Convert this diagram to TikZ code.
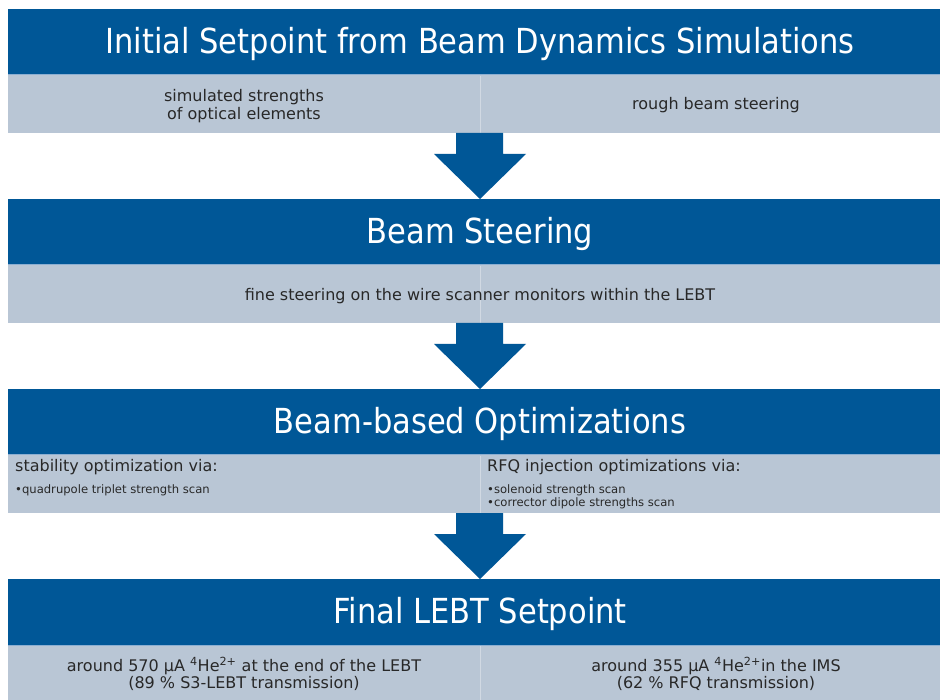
\documentclass[tikz,border=0pt]{standalone}
\usepackage{fontspec}
\setmainfont{DejaVu Sans}
\newfontfamily\hfont[FakeStretch=0.885]{DejaVu Sans}
\newfontfamily\bfont{DejaVu Sans}
\definecolor{dblue}{RGB}{0,87,151}
\definecolor{lband}{RGB}{185,198,213}
\definecolor{hline}{RGB}{140,175,210}
\definecolor{btext}{RGB}{40,40,40}
\tikzset{
  hdr/.style={fill=dblue, draw=none},
  band/.style={fill=lband, draw=none},
  htext/.style={text=white, font=\hfont\fontsize{34.5}{38}\selectfont, inner sep=0pt},
  btxt/.style={text=btext, font=\bfont\fontsize{16}{17.5}\selectfont, align=center, inner sep=0pt},
  ltxt/.style={text=btext, font=\bfont\fontsize{16}{18}\selectfont, inner sep=0pt, anchor=west},
  stxt/.style={text=btext, font=\bfont\fontsize{11.6}{14}\selectfont, inner sep=0pt, anchor=west, align=left},
  arr/.style={fill=dblue, draw=none}
}
\begin{document}
\begin{tikzpicture}[x=1pt,y=-1pt]
\useasboundingbox (0,0) rectangle (940,700);
\fill[white] (0,0) rectangle (940,700);
% blocks
\foreach \t in {9,199,389,579}{
  \fill[hdr] (8,\t) rectangle (952,\t+66);
  \fill[band] (8,\t+66) rectangle (952,\t+124);
  \draw[hline, line width=1pt] (8,\t+66) -- (952,\t+66);
  \draw[white, opacity=0.35, line width=0.8pt] (480,\t+67) -- (480,\t+124);
}
% arrows
\foreach \b/\n in {133/199,323/389,513/579}{
  \fill[arr] (456,\b) -- (503,\b) -- (503,\b+21) -- (526,\b+21) -- (480,\n) -- (434,\b+21) -- (456,\b+21) -- cycle;
}
% headers
\node[htext] (h1) at (480,44) {Initial Setpoint from Beam Dynamics Simulations};
\node[htext] (h2) at (480,234) {Beam Steering};
\node[htext] (h3) at (480,424) {Beam-based Optimizations};
\node[htext] (h4) at (480,614) {Final LEBT Setpoint};
% band 1
\node[btxt] (b1l) at (244,106) {simulated strengths\\of optical elements};
\node[btxt] (b1r) at (716,105) {rough beam steering};
% band 2
\node[btxt] (b2) at (480,296) {fine steering on the wire scanner monitors within the LEBT};
% band 3
\node[ltxt] (b3l) at (15,467) {stability optimization via:};
\node[stxt] (b3lb) at (15,490) {•quadrupole triplet strength scan};
\node[ltxt] (b3r) at (487,467) {RFQ injection optimizations via:};
\node[stxt] (b3rb) at (487,496.5) {•solenoid strength scan\\[-1pt]•corrector dipole strengths scan};
% band 4
\node[btxt] (b4l) at (244,674) {around 570 µA \textsuperscript{4}He\textsuperscript{2+} at the end of the LEBT\\(89 \% S3-LEBT transmission)};
\node[btxt] (b4r) at (716,674) {around 355 µA \textsuperscript{4}He\textsuperscript{2+}in the IMS\\(62 \% RFQ transmission)};
\end{tikzpicture}
\end{document}
